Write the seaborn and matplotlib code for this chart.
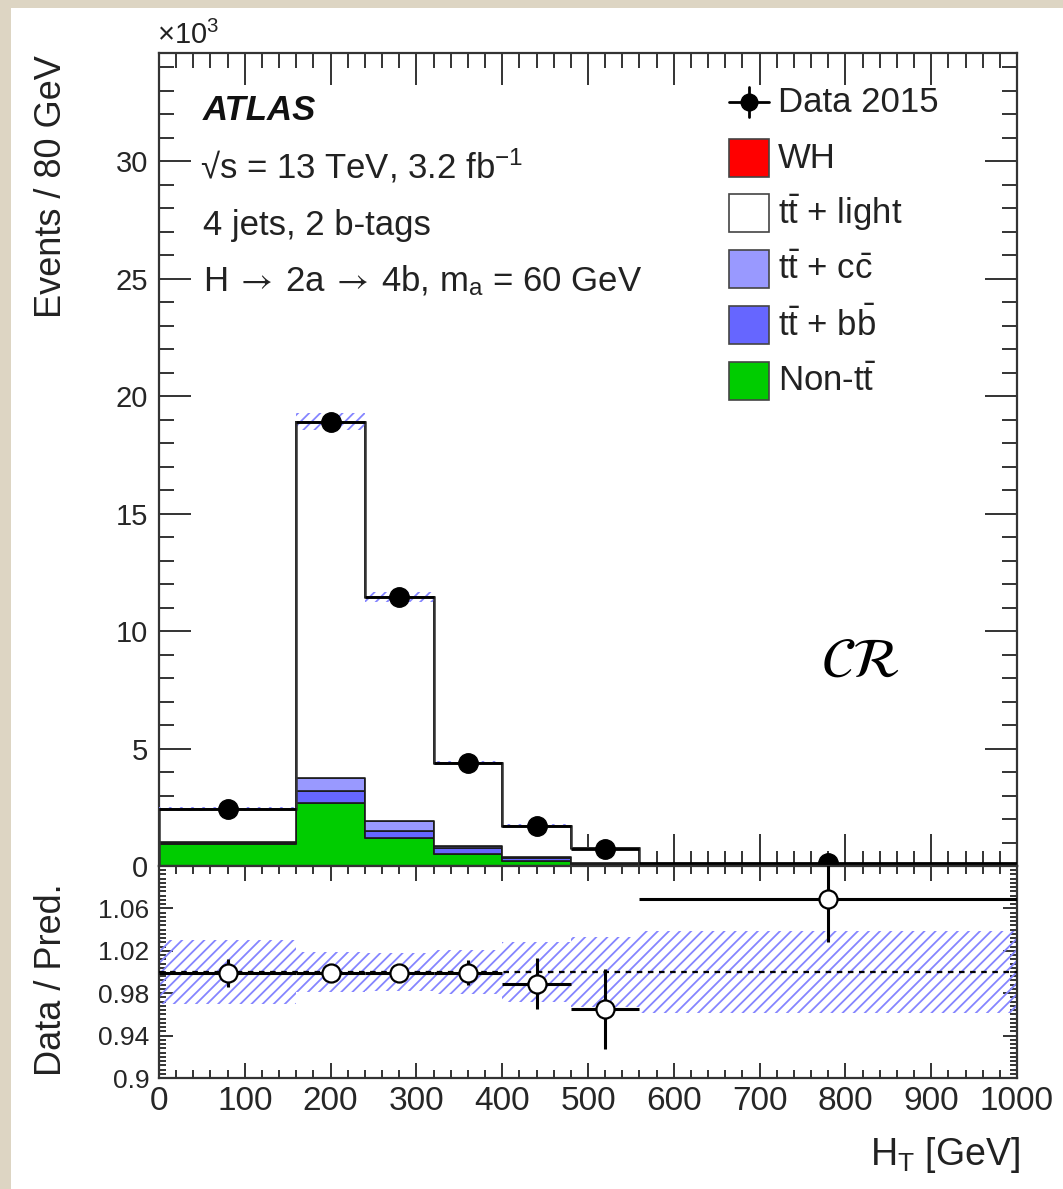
import numpy as np
import pandas as pd
import matplotlib
matplotlib.use("Agg")
import matplotlib.pyplot as plt
import seaborn as sns
from matplotlib.patches import Rectangle
from matplotlib.lines import Line2D
from matplotlib.ticker import MultipleLocator, FixedLocator

# ---- binning (H_T in GeV) ----
bin_edges = [0, 160, 240, 320, 400, 480, 560, 1000]
bin_centers = [80, 200, 280, 360, 440, 520, 780]

# ---- predicted yields, events / 80 GeV (x10^3) ----
non_tt = [0.95, 2.68, 1.20, 0.50, 0.20, 0.06, 0.020]
tt_bb = [0.05, 0.51, 0.30, 0.26, 0.12, 0.04, 0.015]
tt_cc = [0.04, 0.55, 0.42, 0.09, 0.06, 0.03, 0.010]
tt_light = [1.39, 15.16, 9.53, 3.53, 1.337, 0.615, 0.0593]
wh = [0.002, 0.010, 0.006, 0.003, 0.002, 0.001, 0.0005]

# ---- observed data 2015 (x10^3) ----
data_2015 = [2.43, 18.90, 11.45, 4.38, 1.70, 0.72, 0.112]
ratio_err = [0.013, 0.004, 0.005, 0.012, 0.024, 0.038, 0.040]

# ---- relative systematic uncertainty of the prediction ----
band_unc = [0.030, 0.019, 0.018, 0.021, 0.028, 0.033, 0.039]

process_names = ["WH", "tt_light", "tt_cc", "tt_bb", "non_tt"]
process_colors = ["#ff0000", "#ffffff", "#9999ff", "#6666ff", "#00cc00"]

W, H = 1063, 1189

def fx(px):
    return px / W

def fy(py):
    return 1 - py / H

sns.set_theme(style="ticks")
plt.rcParams["font.family"] = ["Liberation Sans", "DejaVu Sans"]
plt.rcParams["mathtext.fontset"] = "custom"
plt.rcParams["mathtext.rm"] = "Liberation Sans"
plt.rcParams["mathtext.it"] = "Liberation Sans:italic"
plt.rcParams["mathtext.bf"] = "Liberation Sans:bold"
plt.rcParams["hatch.linewidth"] = 1.3

fig = plt.figure(figsize=(W / 100, H / 100), dpi=100, facecolor="#ddd5c3")
fig.add_artist(Rectangle((fx(11), 0), 1, fy(8), transform=fig.transFigure,
                         facecolor="white", edgecolor="none", zorder=-5))

left, right = 159, 1017
ax = fig.add_axes([fx(left), fy(866), fx(right - left), fy(53) - fy(866)])
rax = fig.add_axes([fx(left), fy(1078), fx(right - left), fy(866) - fy(1078)])

# ---- stacked prediction ----
yields = {"WH": wh, "tt_light": tt_light, "tt_cc": tt_cc,
          "tt_bb": tt_bb, "non_tt": non_tt}
rows = []
for name in process_names:
    for c, v in zip(bin_centers, yields[name]):
        rows.append({"ht": c, "events": v, "process": name})
df = pd.DataFrame(rows)

sns.histplot(data=df, x="ht", weights="events", hue="process",
             hue_order=process_names, palette=process_colors,
             multiple="stack", bins=bin_edges, element="step",
             alpha=1, edgecolor="#1a1a1a", linewidth=1.2,
             legend=False, ax=ax)

total = np.sum([yields[n] for n in process_names], axis=0)
edges = np.array(bin_edges, dtype=float)
unc = np.array(band_unc)

def stepped(v):
    v = np.asarray(v, dtype=float)
    return np.r_[v, v[-1]]

hatch_color = "#8585ff"
ax.fill_between(edges, stepped(total * (1 - unc)), stepped(total * (1 + unc)),
                step="post", facecolor="none", edgecolor=hatch_color,
                hatch="///", linewidth=0, zorder=4)
ax.stairs(total, edges, color="#333333", linewidth=1.8, zorder=5)

half_w = (edges[1:] - edges[:-1]) / 2
ax.errorbar(bin_centers, data_2015, xerr=half_w, fmt="o", color="black",
            ms=14, elinewidth=2, capsize=0, zorder=6)

ax.set_xlim(0, 1000)
ax.set_ylim(0, 34.6)
ax.set_xlabel("")
ax.set_ylabel("")
ax.xaxis.set_major_locator(MultipleLocator(100))
ax.xaxis.set_minor_locator(MultipleLocator(20))
ax.yaxis.set_major_locator(MultipleLocator(5))
ax.yaxis.set_minor_locator(MultipleLocator(1))
ax.tick_params(which="both", direction="in", top=True, right=True,
               bottom=True, left=True, labelbottom=False, width=1.4,
               color="#333333")
ax.tick_params(which="major", length=23, labelsize=21, pad=8)
ax.tick_params(which="minor", length=11)

# ---- ratio panel ----
ratio = np.array(data_2015) / total
rax.fill_between(edges, stepped(1 - unc), stepped(1 + unc), step="post",
                 facecolor="none", edgecolor=hatch_color, hatch="///",
                 linewidth=0, zorder=2)
rax.axhline(1.0, color="black", linestyle=(0, (2.5, 2.5)), linewidth=1.6,
            zorder=3)
rax.errorbar(bin_centers, ratio, xerr=half_w, yerr=ratio_err, fmt="o",
             mfc="white", mec="black", mew=1.6, ms=13, ecolor="black",
             elinewidth=2.2, capsize=0, zorder=5)
rax.set_xlim(0, 1000)
rax.set_ylim(0.9, 1.1)
rax.xaxis.set_major_locator(MultipleLocator(100))
rax.xaxis.set_minor_locator(MultipleLocator(20))
rax.yaxis.set_major_locator(FixedLocator([0.9, 0.94, 0.98, 1.02, 1.06]))
rax.yaxis.set_minor_locator(MultipleLocator(0.004))
rax.set_yticklabels(["0.9", "0.94", "0.98", "1.02", "1.06"])
rax.tick_params(which="both", direction="in", top=True, right=True,
                width=1.4, color="#333333")
rax.tick_params(axis="x", which="major", length=11, labelsize=24, pad=6)
rax.tick_params(axis="x", which="minor", length=6)
rax.tick_params(axis="y", which="major", length=10, labelsize=19, pad=7)
rax.tick_params(axis="y", which="minor", length=5)

for a in (ax, rax):
    for s in a.spines.values():
        s.set_linewidth(1.6)
        s.set_color("#333333")

# ---- axis titles ----
fig.text(fx(52), fy(55), "Events / 80 GeV", rotation=90, ha="center",
         va="top", fontsize=26, color="#222222")
fig.text(fx(52), fy(980), "Data / Pred.", rotation=90, ha="center",
         va="center", fontsize=26, color="#222222")
fig.text(fx(1020), fy(1155), r"H$_\mathrm{T}$ [GeV]", ha="right",
         va="center", fontsize=27, color="#222222")
fig.text(fx(157), fy(50), r"×10$^\mathrm{3}$", ha="left", va="bottom",
         fontsize=21, color="#222222")

# ---- labels ----
fig.text(fx(203), fy(110), "ATLAS", ha="left", va="center", fontsize=25,
         fontweight="bold", fontstyle="italic", color="#111111")
fig.text(fx(200), fy(166), r"√s = 13 TeV, 3.2 fb$^\mathrm{-1}$", ha="left",
         va="center", fontsize=25, color="#222222")
fig.text(fx(203), fy(225), "4 jets, 2 b-tags", ha="left", va="center",
         fontsize=25, color="#222222")
fig.text(fx(203), fy(281),
         r"H$\;\rightarrow\;$2a$\;\rightarrow\;$4b, m$_\mathregular{a}$ = 60 GeV",
         ha="left", va="center", fontsize=25, color="#222222",
         math_fontfamily="stixsans")

fig.text(fx(860), fy(663), r"$\mathcal{CR}$", ha="center", va="center",
         fontsize=40, math_fontfamily="stix", color="black")

# ---- legend ----
legend_rows = [
    ("Data 2015", None),
    ("WH", "#ff0000"),
    (r"$\mathrm{t\bar{t}}$ + light", "#ffffff"),
    (r"$\mathrm{t\bar{t}}$ + $\mathrm{c\bar{c}}$", "#9999ff"),
    (r"$\mathrm{t\bar{t}}$ + $\mathrm{b\bar{b}}$", "#6666ff"),
    (r"Non-$\mathrm{t\bar{t}}$", "#00cc00"),
]
row_y = [102, 158, 213, 269, 325, 381]
for (label, color), yc in zip(legend_rows, row_y):
    if color is None:
        fig.add_artist(Line2D([fx(729), fx(769)], [fy(yc), fy(yc)],
                              transform=fig.transFigure, color="black", lw=2))
        fig.add_artist(Line2D([fx(749), fx(749)], [fy(yc - 15), fy(yc + 15)],
                              transform=fig.transFigure, color="black", lw=2))
        fig.add_artist(Line2D([fx(749)], [fy(yc)], transform=fig.transFigure,
                              marker="o", ms=12, color="black"))
    else:
        fig.add_artist(Rectangle((fx(729), fy(yc + 19)), fx(40), fy(0) - fy(38),
                                 transform=fig.transFigure, facecolor=color,
                                 edgecolor="#444444", lw=1.2))
    fig.text(fx(778), fy(yc), label, ha="left", va="center", fontsize=25,
             color="#222222")

fig.savefig("out.png", dpi=100, facecolor=fig.get_facecolor())
